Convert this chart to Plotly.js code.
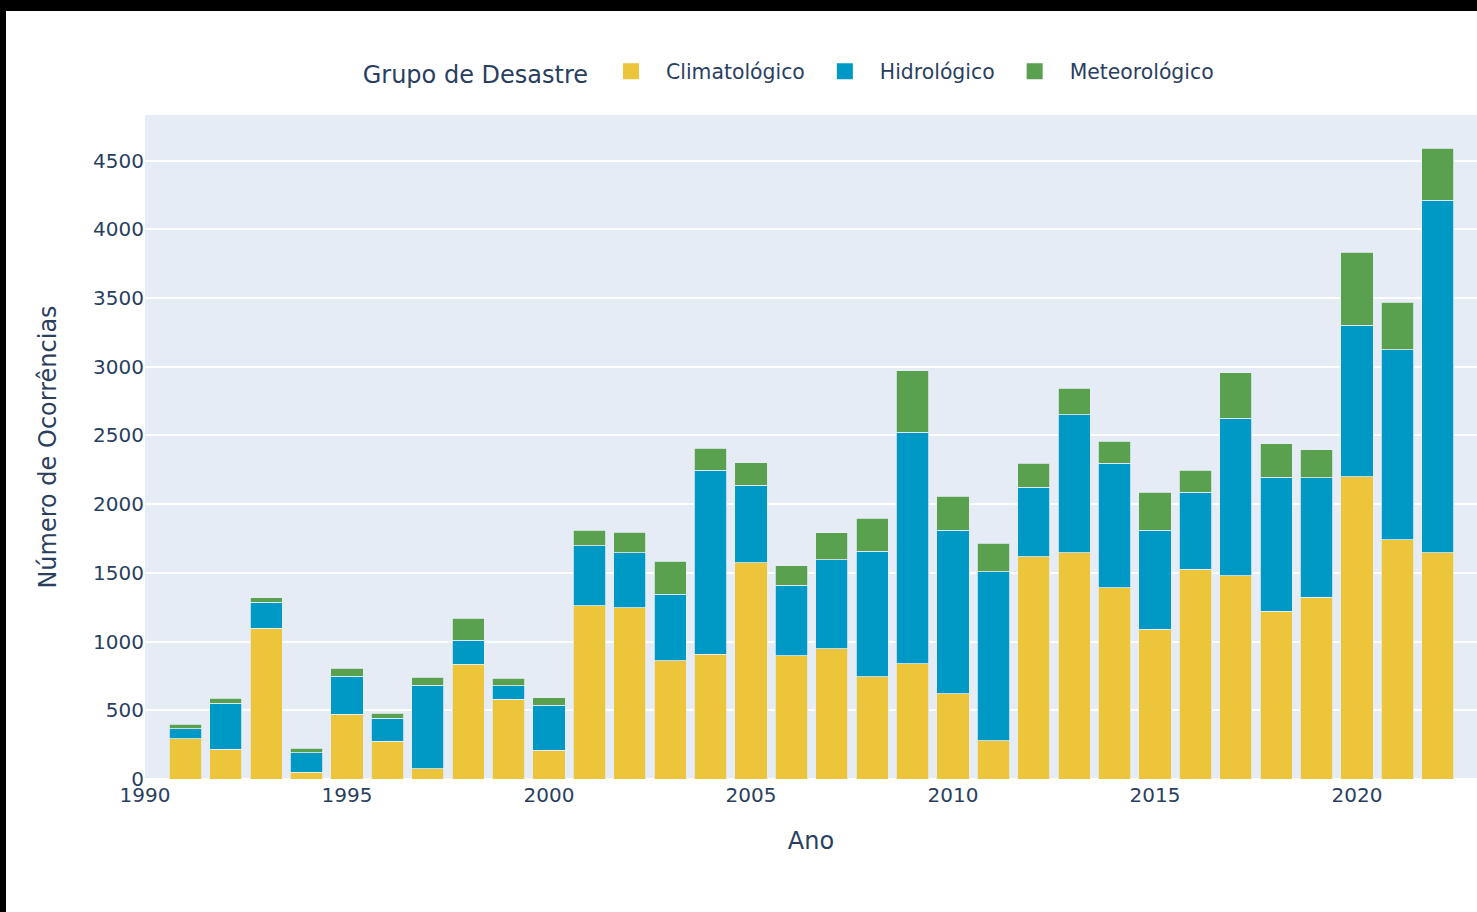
<!DOCTYPE html>
<html>
<head>
<meta charset="utf-8">
<script src="https://cdn.plot.ly/plotly-3.0.1.min.js"></script>
<style>
  html, body { margin: 0; padding: 0; background: #000; width: 1477px; height: 912px; overflow: hidden; }
  #chart { position: absolute; left: 6px; top: 11px; width: 1471px; height: 901px; background: #fff; }
</style>
</head>
<body>
<div id="chart"></div>
<script>
const anos = [1991, 1992, 1993, 1994, 1995, 1996, 1997, 1998, 1999, 2000,
              2001, 2002, 2003, 2004, 2005, 2006, 2007, 2008, 2009, 2010,
              2011, 2012, 2013, 2014, 2015, 2016, 2017, 2018, 2019, 2020,
              2021, 2022];
const climatologico = [293, 218, 1097, 48, 472, 274, 73, 835, 581, 208,
                       1260, 1246, 859, 907, 1575, 897, 946, 745, 837, 619,
                       278, 1616, 1647, 1391, 1089, 1525, 1479, 1221, 1321, 2200,
                       1742, 1645];
const hidrologico = [73, 334, 188, 143, 274, 169, 610, 175, 99, 327,
                     436, 399, 486, 1340, 563, 513, 651, 914, 1686, 1190,
                     1229, 508, 1002, 905, 720, 563, 1145, 976, 870, 1100,
                     1382, 2567];
const meteorologico = [34, 34, 34, 34, 60, 36, 58, 159, 54, 56,
                       113, 152, 239, 160, 162, 141, 195, 240, 448, 247,
                       208, 172, 193, 162, 276, 157, 333, 242, 206, 533,
                       345, 378];
const grupos = ['Climatológico', 'Hidrológico', 'Meteorológico'];
const cores = ['#ECC53A', '#0099C6', '#59A14F'];
const series = [climatologico, hidrologico, meteorologico];

const FONT = 'DejaVu Sans, Verdana, sans-serif';

const bars = series.map((vals, i) => ({
  type: 'bar',
  name: grupos[i],
  legendgroup: grupos[i],
  showlegend: false,
  x: anos,
  y: vals,
  marker: { color: cores[i], line: { color: '#E5ECF6', width: 0.8 } }
}));

// legend entries (larger square swatches), no data drawn
const legendEntries = grupos.map((g, i) => ({
  type: 'scatter',
  mode: 'markers',
  name: g,
  legendgroup: g,
  showlegend: true,
  x: [null],
  y: [null],
  marker: { color: cores[i], symbol: 'square', size: 16, line: { width: 0 } },
  hoverinfo: 'skip'
}));

const layout = {
  width: 1471,
  height: 901,
  barmode: 'stack',
  paper_bgcolor: '#ffffff',
  plot_bgcolor: '#E5ECF6',
  font: { family: FONT, size: 20, color: '#2a3f5f' },
  margin: { l: 139, r: 0, t: 104, b: 133 },
  xaxis: {
    range: [1990, 2022.97],
    tick0: 1990,
    dtick: 5,
    showgrid: false,
    zeroline: false,
    ticklabelstandoff: 2,
    tickfont: { family: FONT, size: 20, color: '#2a3f5f' },
    title: { text: 'Ano', font: { family: FONT, size: 24, color: '#2a3f5f' }, standoff: 26 },
    automargin: false
  },
  yaxis: {
    dtick: 500,
    gridcolor: '#ffffff',
    gridwidth: 2,
    zeroline: true,
    zerolinecolor: '#ffffff',
    zerolinewidth: 2,
    tickfont: { family: FONT, size: 20, color: '#2a3f5f' },
    title: { text: 'Número de Ocorrências', font: { family: FONT, size: 24, color: '#2a3f5f' }, standoff: 29 },
    automargin: false
  },
  legend: {
    orientation: 'h',
    traceorder: 'normal',
    itemwidth: 60,
    x: 0.484,
    xanchor: 'center',
    y: 1.0325,
    yanchor: 'bottom',
    font: { family: FONT, size: 20.4, color: '#2a3f5f' },
    title: { text: 'Grupo de Desastre', font: { family: FONT, size: 24, color: '#2a3f5f' } },
    bgcolor: 'rgba(0,0,0,0)'
  },
  showlegend: true
};

Plotly.newPlot('chart', bars.concat(legendEntries), layout, { displayModeBar: false, staticPlot: true });
</script>
</body>
</html>
